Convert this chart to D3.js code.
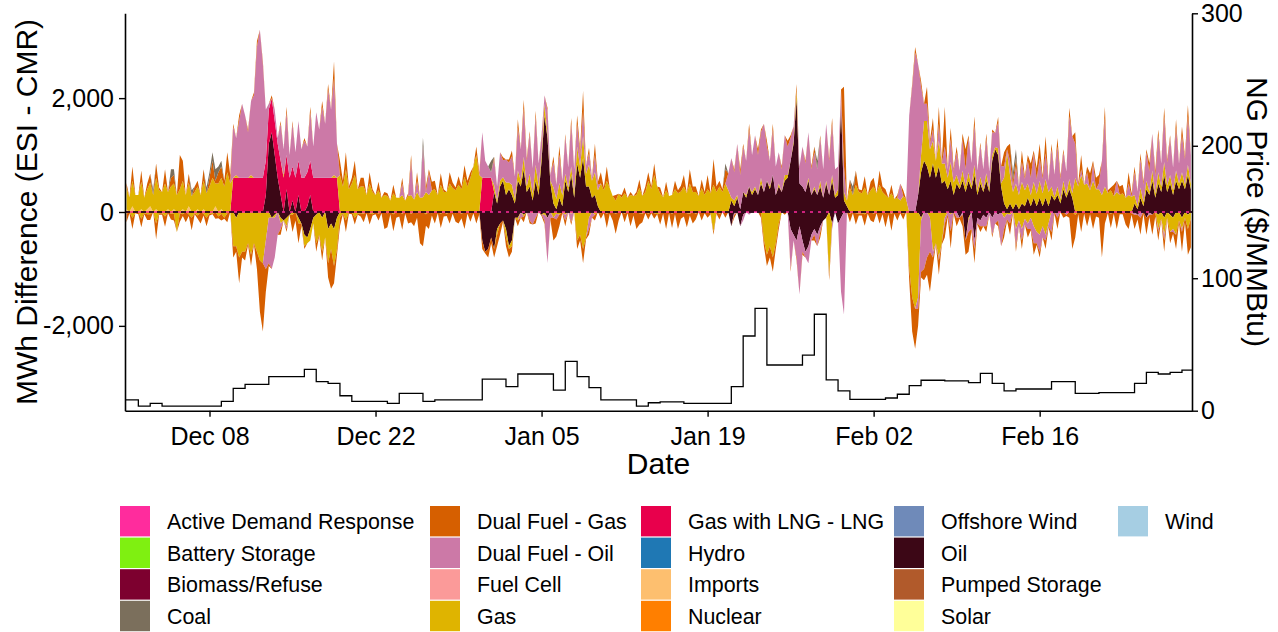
<!DOCTYPE html>
<html>
<head>
<meta charset="utf-8">
<script src="https://cdn.jsdelivr.net/npm/d3@7"></script>
<style>
  html, body { margin: 0; padding: 0; background: #fff; }
  svg { display: block; font-family: "Liberation Sans", Arial, Helvetica, sans-serif; }
</style>
</head>
<body>
<svg id="chart" width="1278" height="632"></svg>
<script>
// ---------------------------------------------------------------
// Data: MWh difference (ESI - CMR) by fuel, four 6-hour blocks per
// day from Dec 1 to Feb 28; one row of the lists below = one week.
// "Up" lists are surpluses, "Down" lists are shortfalls.
// ---------------------------------------------------------------
const Z = [0, 0, 0, 0]; // a day with no change

const gasUp = [
  [380,260,450,300],[300,480,250,350],[420,300,550,380],[350,500,300,450],[450,300,400,500],[300,420,280,350],[400,300,500,330],
  [450,600,400,500],[550,450,700,500],[0,50,0,0],[0,0,50,0],Z,Z,[0,50,0,0],
  Z,Z,Z,[0,0,50,0],[650,450,750,400],[500,650,400,450],[450,300,500,350],
  [300,380,250,300],[280,200,330,250],[250,300,200,280],[300,220,350,250],[260,350,300,380],[400,300,480,350],[350,500,420,380],
  [480,400,620,450],[600,800,1000,650],Z,[120,50,100,60],[220,120,180,80],[180,100,220,100],[220,120,280,150],
  [100,200,80,50],[280,180,260,200],[120,80,150,100],[300,200,380,220],[380,300,400,280],[500,380,550,420],[280,200,320,250],
  [330,250,300,280],[300,420,280,350],[550,400,650,450],[330,260,380,280],[300,400,330,360],[450,330,500,350],[350,280,420,300],
  [400,330,480,350],[450,350,500,380],[50,100,50,0],[0,50,0,50],[50,0,100,0],[0,50,0,0],[50,0,100,50],
  [0,50,150,0],[0,0,50,0],[50,0,100,0],[50,0,100,50],[100,50,150,100],[420,300,480,350],[330,430,300,380],
  [450,330,480,350],[300,250,330,230],[250,200,280,220],Z,[300,700,800,500],[400,300,450,350],[300,200,330,220],
  [150,80,180,100],[150,60,180,80],[120,50,130,60],[100,40,120,60],[450,1000,500,300],[350,250,380,280],[250,200,280,220],
  [300,230,330,250],[150,60,150,80],[150,60,180,80],[600,450,650,480],[500,380,550,400],[400,300,450,330],[380,280,350,300],
  [330,250,300,270],[150,60,180,80],[150,60,180,80],[200,100,230,120],[150,80,180,100],[150,80,180,100]
].flat();

const dualGasUp = [
  [80,0,250,0],[0,200,0,100],[150,0,250,50],[0,250,0,150],[150,0,600,350],[0,150,0,100],[100,0,200,0],
  [150,300,50,200],[200,100,350,150],[50,0,100,0],[0,50,0,50],[100,0,50,0],[0,50,0,0],[50,0,100,0],
  [50,0,0,0],[50,0,100,0],[0,0,100,0],[100,0,300,0],[250,100,300,50],[100,250,0,150],[150,0,200,50],
  [0,150,0,50],[50,0,150,0],[0,100,0,50],[100,0,150,0],[0,100,50,150],[150,0,200,50],[0,200,100,50],
  [150,50,200,100],[100,0,150,50],Z,[50,0,0,50],[0,50,100,0],[150,0,150,50],[50,0,100,0],
  [50,0,50,0],[100,0,150,0],[50,0,100,0],[150,100,350,0],[100,0,200,50],[200,50,250,0],[0,100,0,50],
  [100,0,50,0],[50,150,0,100],[150,50,200,0],[100,0,150,0],[0,150,50,100],[200,0,250,100],[100,0,150,50],
  [250,0,450,100],[100,50,250,0],[0,50,0,100],[50,0,100,0],[0,100,50,0],[100,0,100,0],[0,50,0,100],
  [50,0,100,0],[0,50,0,50],[100,0,50,0],[0,50,100,0],[0,0,1400,0],[150,0,250,50],[50,200,0,150],
  [150,0,250,100],[100,0,150,0],[50,0,100,0],[0,50,100,0],[100,0,300,50],[200,0,300,50],[700,0,200,50],
  [100,0,100,350],[50,0,150,0],[50,0,100,0],[50,0,100,0],[250,50,300,100],[150,0,200,50],[100,250,50,200],
  [250,50,300,0],[100,0,150,50],[50,0,150,0],[200,50,250,0],[100,300,50,200],[150,0,200,50],[50,200,0,150],
  [150,0,200,50],[100,0,100,50],[50,150,0,100],[100,0,150,50],[50,0,150,0],[150,50,200,0]
].flat();

const dualOilUp = [
  Z,Z,Z,Z,Z,Z,Z,
  Z,Z,[900,650,1000,1300],[1100,800,1300,1450],[2300,2600,2000,900],[100,0,200,100],[650,450,750,400],
  [750,450,700,500],[650,450,850,550],[1150,850,1250,950],[1550,1200,1700,600],Z,Z,Z,
  Z,Z,[0,200,0,0],[600,0,200,0],[900,0,400,0],Z,Z,
  Z,Z,[800,300,200,100],[450,250,500,300],[400,350,500,400],[750,550,850,450],[700,450,850,400],
  [300,150,400,100],[450,250,500,250],[650,350,750,400],[400,200,450,150],[200,50,300,100],Z,Z,
  Z,Z,Z,Z,Z,Z,Z,
  Z,[0,0,0,300],[700,500,900,600],[800,600,1000,650],[900,700,800,1200],[600,450,800,500],[550,400,700,500],
  [400,250,0,300],[700,500,800,450],[600,450,750,500],[1000,600,900,450],[400,200,450,0],Z,Z,
  Z,Z,[0,300,0,0],[1700,2200,2800,2300],[1200,300,300,100],[200,0,300,0],[300,150,400,200],
  [400,250,550,300],[600,400,700,350],[550,350,600,300],[400,250,450,300],[200,50,250,100],[300,150,350,200],[400,300,500,250],
  [400,250,450,200],[650,400,700,350],[500,400,1100,1000],[600,0,100,0],[200,0,300,0],[100,600,1200,0],[0,0,200,0],
  [0,0,200,0],[400,250,500,300],[500,350,650,300],[650,400,800,400],[650,400,750,350],[650,450,850,500]
].flat();

const oilUp = [
  Z,Z,Z,Z,Z,Z,Z,
  Z,Z,Z,Z,[0,0,0,300],[1200,1400,1000,600],[300,0,400,0],
  [200,0,300,0],[0,100,300,0],Z,Z,Z,Z,Z,
  Z,Z,Z,Z,Z,Z,Z,
  Z,Z,Z,[350,150,450,550],[300,400,300,150],[550,450,750,350],[450,200,550,300],
  [900,1700,1300,500],[150,50,250,100],[550,350,650,250],[850,600,950,450],[450,250,300,100],Z,Z,
  Z,Z,Z,Z,Z,Z,Z,
  Z,Z,[200,100,250,50],[350,250,450,300],[400,300,500,350],[550,400,650,300],[450,350,550,600],
  [900,1200,2000,500],[450,350,550,300],[400,300,450,250],[500,300,550,250],[300,1900,200,100],Z,Z,
  Z,Z,Z,[0,0,0,300],[700,900,800,600],[850,600,800,500],[550,400,550,300],
  [500,400,550,350],[550,400,650,300],[500,350,550,350],[900,1100,1000,450],[150,50,150,50],[150,50,150,100],[250,100,250,100],
  [250,100,250,100],[300,200,300,150],[400,250,400,250],Z,Z,Z,Z,
  Z,[150,50,250,100],[400,300,550,250],[500,350,650,350],[500,300,550,400],[550,400,650,400]
].flat();

const lngUp = [
  Z,Z,Z,Z,Z,Z,Z,
  Z,Z,[600,600,600,600],[600,600,600,600],[600,600,600,600],[600,600,600,600],[600,600,600,600],
  [600,600,600,600],[600,600,600,600],[600,600,600,600],[600,600,600,600],Z,Z,Z,
  Z,Z,Z,Z,Z,Z,Z,
  Z,Z,[600,600,600,600],Z,Z,Z,Z,
  Z,Z,Z,Z,Z,Z,Z,
  Z,Z,Z,Z,Z,Z,Z,
  Z,Z,Z,Z,Z,Z,Z,
  Z,Z,Z,Z,Z,Z,Z,
  Z,Z,Z,Z,Z,Z,Z,
  Z,Z,Z,Z,Z,Z,Z,
  Z,Z,Z,Z,Z,Z,Z,
  Z,Z,Z,Z,Z,Z
].flat();

const coalUp = [
  Z,Z,[0,100,0,0],[0,0,0,150],[100,0,0,0],[0,0,100,0],[0,0,0,100],
  [100,150,200,100],[100,0,0,0],Z,Z,Z,Z,Z,
  Z,Z,Z,Z,Z,Z,Z,
  Z,Z,Z,Z,[150,0,0,0],Z,Z,
  Z,Z,[0,0,0,200],Z,Z,Z,Z,
  Z,Z,Z,Z,Z,Z,Z,
  Z,Z,Z,Z,Z,Z,Z,
  Z,[0,0,100,0],Z,Z,Z,Z,Z,
  Z,Z,[0,150,0,0],Z,Z,[0,150,0,0],Z,
  Z,Z,Z,Z,Z,Z,Z,
  Z,Z,Z,Z,[0,0,0,150],[150,0,0,0],Z,
  Z,Z,Z,Z,Z,Z,Z,
  Z,Z,Z,Z,Z,Z
].flat();

const importsUp = [
  [50,0,100,0],[0,50,0,50],[100,0,50,0],[0,0,50,0],[50,0,0,50],[0,100,0,0],[50,0,50,0],
  [0,0,100,0],[50,0,0,0],Z,Z,Z,Z,Z,
  Z,Z,Z,Z,Z,Z,Z,
  Z,Z,Z,Z,Z,Z,Z,
  Z,Z,Z,Z,Z,Z,Z,
  Z,Z,Z,Z,Z,Z,Z,
  Z,Z,Z,Z,Z,Z,Z,
  Z,Z,Z,Z,Z,Z,Z,
  Z,Z,Z,Z,Z,Z,Z,
  Z,Z,Z,Z,Z,Z,Z,
  Z,Z,Z,Z,Z,Z,Z,
  Z,Z,Z,Z,Z,Z,Z,
  Z,Z,Z,Z,Z,Z
].flat();

const gasDown = [
  [-30,0,-100,-20],[0,-120,-20,-40],[-40,0,-200,-20],[-20,-80,0,-30],[-30,-350,-20,-40],[0,-40,-100,-20],[-60,0,-30,-100],
  [-20,-40,0,-80],[-30,-100,-20,0],[-600,-500,-800,-700],[-700,-550,-750,-550],[-700,-850,-900,-500],[-100,0,-50,0],[-100,0,-150,0],
  [-50,0,-100,0],[-200,-100,-200,-100],[-500,-400,-600,-450],[-600,-450,-650,-550],[-100,-20,-150,0],[0,-100,-30,-20],[-30,0,-20,-40],
  [0,-30,0,0],[-20,0,-40,0],[0,-30,0,0],[-30,0,-20,0],[0,-40,0,-20],[0,0,-30,0],[-30,0,0,-20],
  [0,-30,0,0],[-20,0,0,0],Z,[0,-100,0,0],[-150,-50,-100,0],[-50,0,-30,0],[0,-20,0,0],
  [0,-50,0,0],[-100,-30,-50,0],[-50,0,-30,0],[-500,-400,-650,-450],[-100,0,-50,0],[-20,0,-30,0],[0,-30,0,0],
  [-30,0,0,-20],[0,-20,-30,0],[-30,0,-20,-40],[-20,0,0,0],[-30,0,0,-20],[0,-20,-30,0],[-30,0,0,0],
  [0,-20,-350,0],[-30,0,0,0],Z,Z,[0,0,0,-500],[-750,-600,-800,-550],[-200,0,0,0],
  Z,Z,Z,[0,-1100,0,0],Z,[-30,0,-20,-30],[-20,-40,0,0],
  [-30,0,0,0],[-20,0,-30,0],[0,0,-30,0],[-1000,-1500,-1700,-1500],[-50,0,0,-100],[-700,-550,-800,-550],[-100,0,-40,0],
  Z,[-50,0,0,0],Z,Z,[-100,-30,-50,0],[-300,-150,-300,-120],[-200,-100,-250,-350],
  [-400,-250,-400,-200],Z,Z,[-50,0,0,0],Z,Z,[-30,0,0,0],
  [0,-20,0,-20],Z,Z,[-250,-120,-300,-100],[-300,-200,-400,-150],[-200,-100,-250,-120]
].flat();

const dualGasDown = [
  [-150,-20,-200,0],[-40,-150,-20,-100],[-100,0,-280,-30],[-30,-180,-20,-100],[-120,0,-150,-30],[-180,-30,-220,-20],[-60,-200,-30,-150],
  [-40,0,-120,-30],[-120,-20,-160,0],[-200,-100,-450,-100],[-150,-30,-200,-20],[-300,-900,-1200,-400],[-50,0,0,0],[-100,0,-50,0],
  [-300,-150,-350,-50],[-50,0,0,0],[-150,-20,-150,0],[-250,-700,-300,-100],[-150,-20,-200,-30],[-40,-120,-20,-60],[-150,-20,-200,-20],
  [-40,-120,-20,-300],[-250,-40,-300,-100],[-80,-280,-30,-200],[-150,-250,-80,-550],[-600,-200,-300,-40],[-200,-20,-250,-80],[-40,-200,-30,-150],
  [-200,-80,-300,-30],[-150,-20,-200,-40],[-150,-30,-150,-100],[-150,-200,-200,-20],[-150,-150,-100,0],[-100,0,-100,0],[-50,0,-100,0],
  [-20,-60,0,-40],[-400,-300,-200,-20],[-100,0,-50,0],[-150,-100,-250,-30],[-100,0,-100,0],[-100,-20,-250,-30],[-150,-350,-150,0],
  [-150,-20,-250,-40],[-300,-200,-150,-20],[-100,-20,-100,0],[-200,-30,-300,-20],[-250,-40,-300,-100],[-80,-250,-30,-200],[-100,0,-150,-20],
  [-100,-20,-50,-30],[-100,0,-100,0],[0,-50,0,0],Z,[0,0,-100,-100],[-200,-200,-250,-100],[-100,0,-50,0],
  [-50,0,-50,0],[-50,0,0,0],[-100,0,-100,0],[0,-100,0,0],Z,[-150,-20,-200,-30],[-40,-200,-30,-150],
  [-150,-20,-200,-40],[-250,-40,-300,-30],[-150,-20,-100,0],[-200,-600,-700,-300],[-100,-200,-300,-700],[-150,-20,-250,-20],[-250,-40,-300,-30],
  [-150,-20,-200,-250],[-350,-30,-250,-20],[-100,0,-100,0],[-50,0,-100,0],[-150,-30,-200,-20],[-100,0,-150,0],[-150,-20,-200,-30],
  [-100,0,-150,-20],[-150,-30,-200,0],[-100,-20,-100,-650],[-400,-40,-350,-30],[-250,-40,-300,-80],[-100,-800,-200,-20],[-250,-30,-300,-40],
  [-40,-200,-300,-30],[-250,-80,-300,-30],[-300,-40,-350,-80],[-150,-20,-200,-20],[-200,-30,-250,-40],[-350,-80,-450,-500]
].flat();

const dualOilDown = [
  Z,Z,Z,Z,Z,Z,Z,
  Z,Z,Z,Z,[0,0,0,-500],[-800,-900,-700,-400],[-100,0,-50,0],
  Z,Z,Z,Z,Z,Z,Z,
  Z,Z,Z,Z,Z,Z,Z,
  Z,Z,Z,Z,Z,[0,-100,0,0],[-150,-200,-100,0],
  [0,-100,-800,-100],[0,-100,0,0],[-100,0,-150,0],Z,[-200,-100,0,0],Z,Z,
  Z,Z,Z,Z,Z,Z,Z,
  Z,Z,[0,-50,0,0],[-100,0,-50,0],Z,Z,Z,
  [-700,-100,-300,-1200],[-200,-100,-300,-100],[-100,-200,-100,0],[0,0,-100,0],[0,-1300,-1800,0],Z,Z,
  Z,Z,Z,[0,0,0,-200],[-900,-1000,-800,-600],[-100,0,-50,0],[-100,-50,-300,0],
  [-100,0,-50,0],[-200,-300,-150,-100],[-100,-200,-150,-50],[-300,-200,-100,-600],[-200,-100,-150,0],[-300,-100,-200,-100],[-100,-200,-300,-200],
  [-300,-200,-100,-50],[-350,0,-100,0],[0,-50,0,0],Z,Z,Z,Z,
  Z,[-50,0,-100,0],[0,-50,0,0],[-50,0,-100,0],[0,-50,0,0],[-50,0,0,0]
].flat();

const oilDown = [
  Z,Z,Z,Z,Z,Z,Z,
  Z,Z,[0,-100,0,0],Z,Z,[0,-100,-50,0],[-100,-150,-100,-50],
  [0,0,-100,-200],[-400,-450,-300,-100],[-50,0,-100,0],[-300,-200,-300,-100],Z,Z,Z,
  Z,Z,Z,Z,Z,Z,Z,
  Z,Z,[-500,-700,-650,-450],[-650,-300,-200,-150],[-300,-600,-500,-100],[-100,0,-50,0],Z,
  [-50,0,-100,0],Z,Z,Z,Z,Z,Z,
  Z,Z,Z,Z,Z,Z,Z,
  Z,Z,[-250,0,0,-250],[-50,0,0,0],Z,Z,Z,
  [-300,-400,-500,-250],[-500,-700,-600,-400],[-300,-400,-250,-150],[-100,0,-200,0],[-200,-100,0,0],Z,Z,
  Z,Z,Z,Z,[-100,0,0,0],Z,Z,
  [0,-100,0,-500],[-100,0,-500,-100],[-150,-50,-100,0],[-100,0,-50,0],Z,Z,Z,
  Z,Z,Z,Z,Z,Z,Z,
  Z,[0,-50,0,0],[-100,0,-50,0],[-50,0,-100,0],[-50,-100,0,0],[-100,0,-50,0]
].flat();

// Natural gas price, $/MMBtu, one value per day from Dec 1
const ngPrice = [
  8.1, 3.5, 5.6, 3.5, 3.5, 3.5, 3.5, 3.5, 7.1, 16.9,
  19.9, 19.9, 25.7, 25.7, 25.7, 31.2, 21.9, 20.7, 11.3, 7.1,
  7.1, 7.1, 5.6, 13.1, 13.1, 7.1, 8.1, 8.1, 8.1, 8.1,
  23.9, 23.9, 18.1, 27.7, 27.7, 27.7, 15.6, 37.3, 25.7, 17.4,
  8.1, 8.1, 8.1, 3.5, 6.0, 6.6, 6.6, 5.6, 5.6, 5.6,
  5.6, 18.1, 56.4, 77.3, 34.5, 34.5, 34.5, 42.0, 72.8, 23.2,
  14.9, 8.6, 8.6, 8.6, 9.6, 12.4, 18.9, 23.0, 23.0, 22.5,
  22.5, 21.2, 28.2, 20.7, 14.9, 16.4, 16.4, 16.4, 21.9, 21.9,
  13.1, 13.1, 13.6, 13.6, 13.6, 20.7, 29.0, 27.7, 29.0, 30.7
];

// Legend categories and their fills
const fuelNames = [
  "Active Demand Response", "Battery Storage", "Biomass/Refuse", "Coal",
  "Dual Fuel - Gas", "Dual Fuel - Oil", "Fuel Cell", "Gas",
  "Gas with LNG - LNG", "Hydro", "Imports", "Nuclear",
  "Offshore Wind", "Oil", "Pumped Storage", "Solar",
  "Wind"
];
const fuelColors = [
  "#ff2c9d", "#7ff011", "#7d002f", "#7b6f5c",
  "#d65f00", "#cc79a7", "#fb9a99", "#dfb400",
  "#e8004c", "#1f78b4", "#fdbf6f", "#ff7f00",
  "#6f8ab9", "#3c0716", "#b15a2b", "#ffff99",
  "#a6cee3"
];

// Axis ticks
const mwhTicks = [-2000, 0, 2000];
const mwhTickLabels = ["-2,000", "0", "2,000"];
const priceTicks = [0, 100, 200, 300];
const dateTicks = ["2024-12-08", "2024-12-22", "2025-01-05", "2025-01-19", "2025-02-02", "2025-02-16"];

// ---------------------------------------------------------------
// Chart
// ---------------------------------------------------------------
const HOUR = 3600e3, DAY = 24 * HOUR;
const start = Date.UTC(2024, 11, 1);
const times = d3.range(gasUp.length).map(i => new Date(start + i * 6 * HOUR));

const panel = { left: 125, right: 1192, top: 13.3, bottom: 410.7 };

const x = d3.scaleUtc()
  .domain([new Date(start - 3 * HOUR), new Date(start + 89.845 * DAY)])
  .range([panel.left, panel.right]);
const y = d3.scaleLinear().domain([-3490, 3490]).range([panel.bottom, panel.top]);
const yPrice = d3.scaleLinear().domain([0, 300]).range([panel.bottom, panel.top]);

const colorOf = d3.scaleOrdinal().domain(fuelNames).range(fuelColors);

// bottom-to-top stacking order
const stackKeys = ["Oil", "Imports", "Gas with LNG - LNG", "Gas", "Dual Fuel - Oil", "Dual Fuel - Gas", "Coal"];
const upLists = {
  "Oil": oilUp, "Imports": importsUp, "Gas with LNG - LNG": lngUp, "Gas": gasUp,
  "Dual Fuel - Oil": dualOilUp, "Dual Fuel - Gas": dualGasUp, "Coal": coalUp
};
const downLists = {
  "Oil": oilDown, "Gas": gasDown, "Dual Fuel - Oil": dualOilDown, "Dual Fuel - Gas": dualGasDown
};
function rowsFrom(lists) {
  return times.map((t, i) => {
    const r = { t };
    stackKeys.forEach(k => { r[k] = (lists[k] && lists[k][i]) || 0; });
    return r;
  });
}
const stack = d3.stack().keys(stackKeys);
const upSeries = stack(rowsFrom(upLists));
const downSeries = stack(rowsFrom(downLists));

const svg = d3.select("#chart");

svg.append("defs").append("clipPath").attr("id", "panel-clip")
  .append("rect")
  .attr("x", panel.left).attr("y", panel.top)
  .attr("width", panel.right - panel.left).attr("height", panel.bottom - panel.top);

const area = d3.area()
  .x(d => x(d.data.t))
  .y0(d => y(d[0]))
  .y1(d => y(d[1]))
  .curve(d3.curveLinear);

const marks = svg.append("g").attr("clip-path", "url(#panel-clip)");

[...downSeries, ...upSeries].forEach(s => {
  marks.append("path")
    .datum(s)
    .attr("d", area)
    .attr("fill", colorOf(s.key));
});

// zero reference line
marks.append("line")
  .attr("x1", panel.left).attr("x2", panel.right)
  .attr("y1", y(0)).attr("y2", y(0))
  .attr("stroke", colorOf("Active Demand Response")).attr("stroke-width", 1.6);
marks.append("line")
  .attr("x1", panel.left).attr("x2", panel.right)
  .attr("y1", y(0)).attr("y2", y(0))
  .attr("stroke", "#000").attr("stroke-width", 1.6)
  .attr("stroke-dasharray", "5,3");

// natural gas price as a daily step line
const pricePts = ngPrice.map((v, d) => ({ t: d === 0 ? x.domain()[0] : new Date(start + d * DAY), v }));
pricePts.push({ t: x.domain()[1], v: ngPrice[ngPrice.length - 1] });
marks.append("path")
  .datum(pricePts)
  .attr("fill", "none")
  .attr("stroke", "#000")
  .attr("stroke-width", 1.3)
  .attr("d", d3.line().x(d => x(d.t)).y(d => yPrice(d.v)).curve(d3.curveStepAfter));

// axes
function styleAxis(g) {
  g.attr("font-family", null).attr("font-size", null);
  g.select(".domain").attr("stroke", "#000").attr("stroke-width", 1.6);
  g.selectAll(".tick line").attr("stroke", "#000").attr("stroke-width", 1.4);
  g.selectAll(".tick text").attr("fill", "#000").style("font-size", "25px");
}

svg.append("g")
  .attr("transform", `translate(${panel.left},0)`)
  .call(d3.axisLeft(y).tickValues(mwhTicks).tickFormat((d, i) => mwhTickLabels[i]).tickSize(6).tickSizeOuter(0).tickPadding(5))
  .call(styleAxis);

svg.append("g")
  .attr("transform", `translate(${panel.right},0)`)
  .call(d3.axisRight(yPrice).tickValues(priceTicks).tickSize(6).tickSizeOuter(0).tickPadding(3))
  .call(styleAxis);

svg.append("g")
  .attr("transform", `translate(0,${panel.bottom})`)
  .call(d3.axisBottom(x).tickValues(dateTicks.map(s => new Date(s + "T00:00:00Z")))
    .tickFormat(d3.utcFormat("%b %d")).tickSize(6).tickSizeOuter(0).tickPadding(11))
  .call(styleAxis);

// axis titles
svg.append("text")
  .attr("transform", `translate(37,212) rotate(-90)`)
  .attr("text-anchor", "middle")
  .style("font-size", "30px")
  .text("MWh Difference (ESI - CMR)");

svg.append("text")
  .attr("transform", `translate(1247,212) rotate(90)`)
  .attr("text-anchor", "middle")
  .style("font-size", "30px")
  .text("NG Price ($/MMBtu)");

svg.append("text")
  .attr("x", (panel.left + panel.right) / 2)
  .attr("y", 474)
  .attr("text-anchor", "middle")
  .style("font-size", "30px")
  .text("Date");

// legend: five columns, four rows, filled down each column
const legendColX = [120, 430, 641, 894, 1118];
const legendTop = 506, legendStep = 31.6, keyW = 30, keyH = 30.4;
const legend = svg.append("g");
fuelNames.forEach((name, i) => {
  const col = Math.floor(i / 4), row = i % 4;
  const gx = legendColX[col], gy = legendTop + row * legendStep;
  legend.append("rect")
    .attr("x", gx).attr("y", gy)
    .attr("width", keyW).attr("height", keyH)
    .attr("fill", colorOf(name));
  legend.append("text")
    .attr("x", gx + 47).attr("y", gy + keyH / 2)
    .attr("dy", "0.36em")
    .style("font-size", "21.4px")
    .text(name);
});
</script>
</body>
</html>
